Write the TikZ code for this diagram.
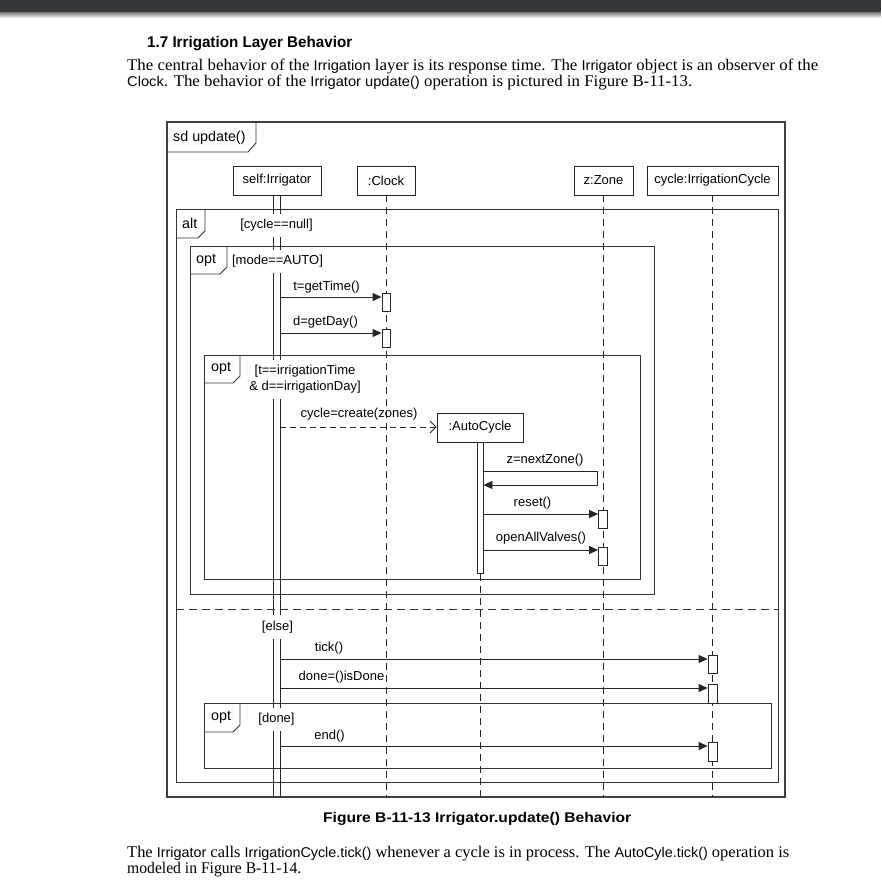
\documentclass[tikz,border=0pt]{standalone}
\usepackage{fontspec}
\setmainfont{Liberation Serif}
\setsansfont{Liberation Sans}
\usetikzlibrary{arrows.meta}
\newcommand{\umlfont}{\fontsize{13}{16}\selectfont\sffamily}
\newcommand{\framefont}{\fontsize{14.3}{16}\selectfont\sffamily}
\newcommand{\bodyfont}{\fontsize{16.3}{18}\selectfont\rmfamily}
\newcommand{\bsans}[1]{{\fontsize{14.2}{16}\selectfont\sffamily #1}}
\begin{document}
\begin{tikzpicture}[x=1pt,y=-1pt,
  line/.style={draw=black!85, line width=0.8pt},
  frame/.style={draw=black!80, line width=0.9pt},
  outerframe/.style={draw=black!75, line width=1.3pt},
  head/.style={draw=black!85, line width=0.8pt, fill=white, inner sep=0pt,
    minimum height=29pt, font=\umlfont},
  lifeline/.style={draw=black!85, line width=0.8pt, dash pattern=on 7pt off 5pt},
  actbox/.style={draw=black!85, line width=0.8pt, fill=white, inner sep=0pt,
    minimum width=8pt},
  guard/.style={fill=white, inner xsep=1pt, inner ysep=5.5pt, font=\umlfont, align=center},
  lbl/.style={inner sep=0pt, font=\umlfont},
  flbl/.style={inner sep=0pt, font=\framefont, anchor=west},
  msg/.style={draw=black!85, line width=0.8pt, -{Triangle[length=9pt,width=8pt]}},
  createmsg/.style={draw=black!85, line width=0.8pt, dash pattern=on 6pt off 4pt,
    -{Straight Barb[length=6pt,width=12pt,line width=0.8pt]}},
  txt/.style={inner sep=0pt, anchor=base west}
]
\useasboundingbox (0,0) rectangle (881,888);
\fill[white] (0,0) rectangle (881,888);
% top bar
\fill[fill={rgb,255:red,53;green,56;blue,59}] (0,0) rectangle (881,13);
\shade[top color=black!45, bottom color=white] (0,13) rectangle (881,18);

% heading and paragraphs
\node[txt] (heading) at (147,47.5) {\resizebox{205pt}{\height}{\fontsize{15.5}{17}\selectfont\sffamily\bfseries 1.7 Irrigation Layer Behavior}};
\node[txt] (p1) at (127,71) {\resizebox{691pt}{\height}{\bodyfont The central behavior of the \bsans{Irrigation} layer is its response time. The \bsans{Irrigator} object is an observer of the}};
\node[txt] (p2) at (127,87) {\resizebox{565pt}{\height}{\bodyfont \bsans{Clock}. The behavior of the \bsans{Irrigator update()} operation is pictured in Figure B-11-13.}};

% outer frame
\draw[outerframe] (167,122) rectangle (785,797);
\draw[frame] (167,152) -- (248,152) -- (256,143) -- (256,122);
\node[flbl] (sdlbl) at (173,137.5) {sd update()};

% lifeline heads
\node[head, minimum width=88pt] (irr) at (277,180.5) {self:Irrigator};
\node[head, minimum width=58pt] (clock) at (386,180.5) {:Clock};
\node[head, minimum width=59pt] (zone) at (603.5,180.5) {z:Zone};
\node[head, minimum width=131pt] (cyc) at (712.5,180.5) {cycle:IrrigationCycle};
\coordinate (bot) at (0,797);

% lifelines
\draw[lifeline] (clock.south) -- (clock.south |- bot);
\draw[lifeline] (zone.south) -- (zone.south |- bot);
\draw[lifeline] (cyc.south) -- (cyc.south |- bot);

% alt frame
\draw[frame] (176,209) rectangle (778,782);
\draw[frame] (176,238) -- (198,238) -- (205,231) -- (205,209);
\node[flbl] (altlbl) at (182,223.5) {alt};
\draw[frame, dash pattern=on 8pt off 5pt] (176,609) -- (778,609);

% opt1 frame
\draw[frame] (190,246) rectangle (654,594);
\draw[frame] (190,274) -- (220,274) -- (227,267) -- (227,246);
\node[flbl] (opt1lbl) at (196,260.5) {opt};

% opt2 frame
\draw[frame] (204,355) rectangle (640,579);
\draw[frame] (204,383) -- (233,383) -- (240,376) -- (240,355);
\node[flbl] (opt2lbl) at (211,368.5) {opt};

% opt3 frame
\draw[frame] (204,703) rectangle (771,768);
\draw[frame] (204,732) -- (233,732) -- (240,725) -- (240,703);
\node[flbl] (opt3lbl) at (211,717.5) {opt};

% Irrigator activation bar
\coordinate (irrL) at (273,195);
\coordinate (irrR) at (280,195);
\draw[line] (irrL) -- (irrL |- bot);
\draw[line] (irrR) -- (irrR |- bot);

% guards
\node[guard] (g1) at (276.5,225.5) {[cycle==null]};
\node[guard] (g2) at (277.5,261.5) {[mode==AUTO]};
\node[guard] (g3) at (305,379.5) {[t==irrigationTime\\\& d==irrigationDay]};
\node[guard] (g4) at (277.5,627) {[else]};
\node[guard] (g5) at (276.5,719.5) {[done]};

% Clock activations
\node[actbox, minimum height=18pt] (ca1) at (386,302) {};
\node[actbox, minimum height=18pt] (ca2) at (386,338) {};
\coordinate (m1) at (280,297);
\coordinate (m2) at (280,333);
\draw[msg] (m1) -- (m1 -| ca1.west);
\draw[msg] (m2) -- (m2 -| ca2.west);
\node[lbl] (l1) at (326.5,287) {t=getTime()};
\node[lbl] (l2) at (325.5,322) {d=getDay()};

% create AutoCycle
\node[head, minimum width=86pt] (auto) at (480,427.5) {:AutoCycle};
\coordinate (m3) at (280,427);
\draw[createmsg] (m3) -- (m3 -| auto.west);
\node[lbl] (l3) at (359,414) {cycle=create(zones)};
\node[actbox, minimum width=6pt, minimum height=131pt, anchor=north] (acbar) at (auto.south) {};
\draw[lifeline] (acbar.south) -- (acbar.south |- bot);

% self message nextZone
\coordinate (sz1) at (acbar.east |- 0,471);
\coordinate (sz2) at (597,471);
\coordinate (sz3) at (597,485);
\coordinate (sz4) at (acbar.east |- 0,485);
\draw[msg] (sz1) -- (sz2) -- (sz3) -- (sz4);
\node[lbl] (l4) at (545,460) {z=nextZone()};

% zone activations
\node[actbox, minimum width=9pt, minimum height=18pt] (za1) at (603,519) {};
\node[actbox, minimum width=9pt, minimum height=18pt] (za2) at (603,556) {};
\coordinate (m5) at (acbar.east |- 0,514);
\coordinate (m6) at (acbar.east |- 0,550);
\draw[msg] (m5) -- (m5 -| za1.west);
\draw[msg] (m6) -- (m6 -| za2.west);
\node[lbl] (l5) at (532.5,503) {reset()};
\node[lbl] (l6) at (541,538) {openAllValves()};

% cycle activations
\node[actbox, minimum width=9pt, minimum height=18pt] (cy1) at (712.5,664) {};
\node[actbox, minimum width=9pt, minimum height=19pt] (cy2) at (712.5,693.5) {};
\node[actbox, minimum width=9pt, minimum height=19pt] (cy3) at (712.5,751.5) {};
\coordinate (m7) at (280,659);
\coordinate (m8) at (280,688);
\coordinate (m9) at (280,746);
\draw[msg] (m7) -- (m7 -| cy1.west);
\draw[msg] (m8) -- (m8 -| cy2.west);
\draw[msg] (m9) -- (m9 -| cy3.west);
\node[lbl] (l7) at (329,648) {tick()};
\node[lbl] (l8) at (341.5,677) {done=()isDone};
\node[lbl] (l9) at (329.5,736) {end()};

% caption
\node[txt] (cap) at (323,822) {\resizebox{308pt}{\height}{\fontsize{14}{15}\selectfont\sffamily\bfseries Figure B-11-13 Irrigator.update() Behavior}};

% bottom paragraph
\node[txt] (p3) at (127,857) {\resizebox{662pt}{\height}{\bodyfont The \bsans{Irrigator} calls \bsans{IrrigationCycle.tick()} whenever a cycle is in process. The \bsans{AutoCyle.tick()} operation is}};
\node[txt] (p4) at (127,873) {\resizebox{174pt}{\height}{\bodyfont modeled in Figure B-11-14.}};
\end{tikzpicture}
\end{document}
